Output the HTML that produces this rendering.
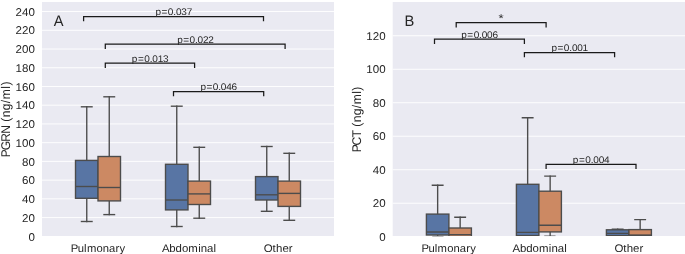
<!DOCTYPE html>
<html><head><meta charset="utf-8"><style>
html,body{margin:0;padding:0;background:#fff;width:685px;height:254px;overflow:hidden}
svg{display:block}
text{font-family:"Liberation Sans",sans-serif;text-rendering:geometricPrecision}
svg{will-change:transform}
</style></head><body>
<svg width="685" height="254" viewBox="0 0 685 254">
<rect width="685" height="254" fill="#fff"/>
<clipPath id="cA"><rect x="42" y="2" width="292.00" height="234"/></clipPath>
<rect x="42" y="2" width="292.00" height="234" fill="#eaeaf2"/>
<text transform="scale(1.0212,1)" x="27.85" y="240.50" font-size="11.32" fill="#262626">0</text>
<line x1="42" x2="334" y1="217.57" y2="217.57" stroke="#fff" stroke-width="0.92"/>
<text transform="scale(1.0212,1)" x="21.56 27.85" y="221.77" font-size="11.32" fill="#262626">20</text>
<line x1="42" x2="334" y1="198.84" y2="198.84" stroke="#fff" stroke-width="0.92"/>
<text transform="scale(1.0212,1)" x="21.56 27.85" y="203.04" font-size="11.32" fill="#262626">40</text>
<line x1="42" x2="334" y1="180.12" y2="180.12" stroke="#fff" stroke-width="0.92"/>
<text transform="scale(1.0212,1)" x="21.56 27.85" y="184.32" font-size="11.32" fill="#262626">60</text>
<line x1="42" x2="334" y1="161.39" y2="161.39" stroke="#fff" stroke-width="0.92"/>
<text transform="scale(1.0212,1)" x="21.56 27.85" y="165.59" font-size="11.32" fill="#262626">80</text>
<line x1="42" x2="334" y1="142.66" y2="142.66" stroke="#fff" stroke-width="0.92"/>
<text transform="scale(1.0212,1)" x="15.26 21.55 27.85" y="146.86" font-size="11.32" fill="#262626">100</text>
<line x1="42" x2="334" y1="123.93" y2="123.93" stroke="#fff" stroke-width="0.92"/>
<text transform="scale(1.0212,1)" x="15.26 21.55 27.85" y="128.13" font-size="11.32" fill="#262626">120</text>
<line x1="42" x2="334" y1="105.20" y2="105.20" stroke="#fff" stroke-width="0.92"/>
<text transform="scale(1.0212,1)" x="15.26 21.55 27.85" y="109.40" font-size="11.32" fill="#262626">140</text>
<line x1="42" x2="334" y1="86.48" y2="86.48" stroke="#fff" stroke-width="0.92"/>
<text transform="scale(1.0212,1)" x="15.26 21.55 27.85" y="90.68" font-size="11.32" fill="#262626">160</text>
<line x1="42" x2="334" y1="67.75" y2="67.75" stroke="#fff" stroke-width="0.92"/>
<text transform="scale(1.0212,1)" x="15.26 21.55 27.85" y="71.95" font-size="11.32" fill="#262626">180</text>
<line x1="42" x2="334" y1="49.02" y2="49.02" stroke="#fff" stroke-width="0.92"/>
<text transform="scale(1.0212,1)" x="15.26 21.55 27.85" y="53.22" font-size="11.32" fill="#262626">200</text>
<line x1="42" x2="334" y1="30.29" y2="30.29" stroke="#fff" stroke-width="0.92"/>
<text transform="scale(1.0212,1)" x="15.26 21.55 27.85" y="34.49" font-size="11.32" fill="#262626">220</text>
<line x1="42" x2="334" y1="11.56" y2="11.56" stroke="#fff" stroke-width="0.92"/>
<text transform="scale(1.0212,1)" x="15.26 21.55 27.85" y="15.76" font-size="11.32" fill="#262626">240</text>
<g clip-path="url(#cA)">
<line x1="86.75" x2="86.75" y1="106.8" y2="160.4" stroke="#4c4c4c" stroke-width="1.375" stroke-linecap="square"/>
<line x1="86.75" x2="86.75" y1="198.3" y2="221.5" stroke="#4c4c4c" stroke-width="1.375" stroke-linecap="square"/>
<line x1="81.47" x2="92.03" y1="221.5" y2="221.5" stroke="#4c4c4c" stroke-width="1.375" stroke-linecap="square"/>
<line x1="81.47" x2="92.03" y1="106.8" y2="106.8" stroke="#4c4c4c" stroke-width="1.375" stroke-linecap="square"/>
<rect x="75.50" y="160.4" width="22.50" height="37.90" fill="#5875a4" stroke="#4c4c4c" stroke-width="1.375" stroke-linecap="square"/>
<line x1="75.50" x2="98.00" y1="186.5" y2="186.5" stroke="#4c4c4c" stroke-width="1.375"/>
<line x1="109.25" x2="109.25" y1="96.8" y2="156.5" stroke="#4c4c4c" stroke-width="1.375" stroke-linecap="square"/>
<line x1="109.25" x2="109.25" y1="200.9" y2="214.6" stroke="#4c4c4c" stroke-width="1.375" stroke-linecap="square"/>
<line x1="103.97" x2="114.53" y1="214.6" y2="214.6" stroke="#4c4c4c" stroke-width="1.375" stroke-linecap="square"/>
<line x1="103.97" x2="114.53" y1="96.8" y2="96.8" stroke="#4c4c4c" stroke-width="1.375" stroke-linecap="square"/>
<rect x="98.00" y="156.5" width="22.50" height="44.40" fill="#cc8963" stroke="#4c4c4c" stroke-width="1.375" stroke-linecap="square"/>
<line x1="98.00" x2="120.50" y1="187.5" y2="187.5" stroke="#4c4c4c" stroke-width="1.375"/>
<line x1="176.75" x2="176.75" y1="106.2" y2="164.3" stroke="#4c4c4c" stroke-width="1.375" stroke-linecap="square"/>
<line x1="176.75" x2="176.75" y1="209.9" y2="226.5" stroke="#4c4c4c" stroke-width="1.375" stroke-linecap="square"/>
<line x1="171.47" x2="182.03" y1="226.5" y2="226.5" stroke="#4c4c4c" stroke-width="1.375" stroke-linecap="square"/>
<line x1="171.47" x2="182.03" y1="106.2" y2="106.2" stroke="#4c4c4c" stroke-width="1.375" stroke-linecap="square"/>
<rect x="165.50" y="164.3" width="22.50" height="45.60" fill="#5875a4" stroke="#4c4c4c" stroke-width="1.375" stroke-linecap="square"/>
<line x1="165.50" x2="188.00" y1="200.0" y2="200.0" stroke="#4c4c4c" stroke-width="1.375"/>
<line x1="199.25" x2="199.25" y1="147.3" y2="181.1" stroke="#4c4c4c" stroke-width="1.375" stroke-linecap="square"/>
<line x1="199.25" x2="199.25" y1="204.5" y2="218.2" stroke="#4c4c4c" stroke-width="1.375" stroke-linecap="square"/>
<line x1="193.97" x2="204.53" y1="218.2" y2="218.2" stroke="#4c4c4c" stroke-width="1.375" stroke-linecap="square"/>
<line x1="193.97" x2="204.53" y1="147.3" y2="147.3" stroke="#4c4c4c" stroke-width="1.375" stroke-linecap="square"/>
<rect x="188.00" y="181.1" width="22.50" height="23.40" fill="#cc8963" stroke="#4c4c4c" stroke-width="1.375" stroke-linecap="square"/>
<line x1="188.00" x2="210.50" y1="193.9" y2="193.9" stroke="#4c4c4c" stroke-width="1.375"/>
<line x1="266.75" x2="266.75" y1="146.5" y2="176.6" stroke="#4c4c4c" stroke-width="1.375" stroke-linecap="square"/>
<line x1="266.75" x2="266.75" y1="200.0" y2="211.3" stroke="#4c4c4c" stroke-width="1.375" stroke-linecap="square"/>
<line x1="261.48" x2="272.02" y1="211.3" y2="211.3" stroke="#4c4c4c" stroke-width="1.375" stroke-linecap="square"/>
<line x1="261.48" x2="272.02" y1="146.5" y2="146.5" stroke="#4c4c4c" stroke-width="1.375" stroke-linecap="square"/>
<rect x="255.50" y="176.6" width="22.50" height="23.40" fill="#5875a4" stroke="#4c4c4c" stroke-width="1.375" stroke-linecap="square"/>
<line x1="255.50" x2="278.00" y1="194.8" y2="194.8" stroke="#4c4c4c" stroke-width="1.375"/>
<line x1="289.25" x2="289.25" y1="153.3" y2="181.1" stroke="#4c4c4c" stroke-width="1.375" stroke-linecap="square"/>
<line x1="289.25" x2="289.25" y1="206.4" y2="220.3" stroke="#4c4c4c" stroke-width="1.375" stroke-linecap="square"/>
<line x1="283.98" x2="294.52" y1="220.3" y2="220.3" stroke="#4c4c4c" stroke-width="1.375" stroke-linecap="square"/>
<line x1="283.98" x2="294.52" y1="153.3" y2="153.3" stroke="#4c4c4c" stroke-width="1.375" stroke-linecap="square"/>
<rect x="278.00" y="181.1" width="22.50" height="25.30" fill="#cc8963" stroke="#4c4c4c" stroke-width="1.375" stroke-linecap="square"/>
<line x1="278.00" x2="300.50" y1="193.4" y2="193.4" stroke="#4c4c4c" stroke-width="1.375"/>
</g>
<polyline points="83.6,21.3 83.6,16.5 263.5,16.5 263.5,21.3" fill="none" stroke="#1a1a1a" stroke-width="1.25"/>
<text transform="scale(1.0412,1)" x="149.30 155.13 161.23 166.43 168.95 174.10 179.25" y="15.10" font-size="9.63" fill="#262626">p=0.037</text>
<polyline points="105.3,49.0 105.3,44.2 285.1,44.2 285.1,49.0" fill="none" stroke="#1a1a1a" stroke-width="1.25"/>
<text transform="scale(1.0412,1)" x="170.15 175.98 182.08 187.28 189.80 194.95 200.10" y="42.80" font-size="9.63" fill="#262626">p=0.022</text>
<polyline points="105.3,68.0 105.3,63.2 194.6,63.2 194.6,68.0" fill="none" stroke="#1a1a1a" stroke-width="1.25"/>
<text transform="scale(1.0412,1)" x="126.61 132.43 138.53 143.74 146.26 151.41 156.56" y="61.80" font-size="9.63" fill="#262626">p=0.013</text>
<polyline points="173.5,96.3 173.5,91.5 263.7,91.5 263.7,96.3" fill="none" stroke="#1a1a1a" stroke-width="1.25"/>
<text transform="scale(1.0412,1)" x="192.48 198.30 204.40 209.60 212.13 217.28 222.43" y="90.10" font-size="9.63" fill="#262626">p=0.046</text>
<text transform="scale(0.9647,1)" x="55.72" y="25.90" font-size="15.20" fill="#262626">A</text>
<text transform="translate(10.00,0) rotate(-90) scale(0.9512,1)" x="-165.39 -158.05 -149.12 -140.70 -131.68 -127.90 -123.33 -115.93 -108.51 -104.35 -93.20 -90.00" y="0" font-size="12.60" fill="#262626">PGRN (ng/ml)</text>
<clipPath id="cB"><rect x="392.7" y="2" width="292.30" height="234"/></clipPath>
<rect x="392.7" y="2" width="292.30" height="234" fill="#eaeaf2"/>
<text transform="scale(1.0212,1)" x="371.29" y="240.60" font-size="11.32" fill="#262626">0</text>
<line x1="392.7" x2="685" y1="203.21" y2="203.21" stroke="#fff" stroke-width="0.92"/>
<text transform="scale(1.0212,1)" x="364.99 371.28" y="207.11" font-size="11.32" fill="#262626">20</text>
<line x1="392.7" x2="685" y1="169.72" y2="169.72" stroke="#fff" stroke-width="0.92"/>
<text transform="scale(1.0212,1)" x="364.99 371.28" y="173.62" font-size="11.32" fill="#262626">40</text>
<line x1="392.7" x2="685" y1="136.23" y2="136.23" stroke="#fff" stroke-width="0.92"/>
<text transform="scale(1.0212,1)" x="364.99 371.28" y="140.13" font-size="11.32" fill="#262626">60</text>
<line x1="392.7" x2="685" y1="102.74" y2="102.74" stroke="#fff" stroke-width="0.92"/>
<text transform="scale(1.0212,1)" x="364.99 371.28" y="106.64" font-size="11.32" fill="#262626">80</text>
<line x1="392.7" x2="685" y1="69.25" y2="69.25" stroke="#fff" stroke-width="0.92"/>
<text transform="scale(1.0212,1)" x="358.69 364.99 371.28" y="73.15" font-size="11.32" fill="#262626">100</text>
<line x1="392.7" x2="685" y1="35.76" y2="35.76" stroke="#fff" stroke-width="0.92"/>
<text transform="scale(1.0212,1)" x="358.69 364.99 371.28" y="39.66" font-size="11.32" fill="#262626">120</text>
<g clip-path="url(#cB)">
<line x1="437.65" x2="437.65" y1="185.3" y2="214.1" stroke="#4c4c4c" stroke-width="1.375" stroke-linecap="square"/>
<line x1="437.65" x2="437.65" y1="235.0" y2="237" stroke="#4c4c4c" stroke-width="1.375" stroke-linecap="square"/>
<line x1="432.38" x2="442.92" y1="185.3" y2="185.3" stroke="#4c4c4c" stroke-width="1.375" stroke-linecap="square"/>
<rect x="426.40" y="214.1" width="22.50" height="20.90" fill="#5875a4" stroke="#4c4c4c" stroke-width="1.375" stroke-linecap="square"/>
<line x1="426.40" x2="448.90" y1="232.0" y2="232.0" stroke="#4c4c4c" stroke-width="1.375"/>
<line x1="460.15" x2="460.15" y1="217.2" y2="228.0" stroke="#4c4c4c" stroke-width="1.375" stroke-linecap="square"/>
<line x1="460.15" x2="460.15" y1="236.4" y2="237" stroke="#4c4c4c" stroke-width="1.375" stroke-linecap="square"/>
<line x1="454.88" x2="465.42" y1="217.2" y2="217.2" stroke="#4c4c4c" stroke-width="1.375" stroke-linecap="square"/>
<rect x="448.90" y="228.0" width="22.50" height="8.40" fill="#cc8963" stroke="#4c4c4c" stroke-width="1.375" stroke-linecap="square"/>
<line x1="448.90" x2="471.40" y1="234.6" y2="234.6" stroke="#4c4c4c" stroke-width="1.375"/>
<line x1="527.65" x2="527.65" y1="117.7" y2="184.3" stroke="#4c4c4c" stroke-width="1.375" stroke-linecap="square"/>
<line x1="527.65" x2="527.65" y1="235.6" y2="237" stroke="#4c4c4c" stroke-width="1.375" stroke-linecap="square"/>
<line x1="522.38" x2="532.92" y1="117.7" y2="117.7" stroke="#4c4c4c" stroke-width="1.375" stroke-linecap="square"/>
<rect x="516.40" y="184.3" width="22.50" height="51.30" fill="#5875a4" stroke="#4c4c4c" stroke-width="1.375" stroke-linecap="square"/>
<line x1="516.40" x2="538.90" y1="232.4" y2="232.4" stroke="#4c4c4c" stroke-width="1.375"/>
<line x1="550.15" x2="550.15" y1="176.1" y2="191.2" stroke="#4c4c4c" stroke-width="1.375" stroke-linecap="square"/>
<line x1="550.15" x2="550.15" y1="231.9" y2="237" stroke="#4c4c4c" stroke-width="1.375" stroke-linecap="square"/>
<line x1="544.88" x2="555.42" y1="176.1" y2="176.1" stroke="#4c4c4c" stroke-width="1.375" stroke-linecap="square"/>
<rect x="538.90" y="191.2" width="22.50" height="40.70" fill="#cc8963" stroke="#4c4c4c" stroke-width="1.375" stroke-linecap="square"/>
<line x1="538.90" x2="561.40" y1="225.3" y2="225.3" stroke="#4c4c4c" stroke-width="1.375"/>
<line x1="617.65" x2="617.65" y1="229.3" y2="229.8" stroke="#4c4c4c" stroke-width="1.375" stroke-linecap="square"/>
<line x1="617.65" x2="617.65" y1="235.6" y2="237" stroke="#4c4c4c" stroke-width="1.375" stroke-linecap="square"/>
<line x1="612.38" x2="622.92" y1="229.3" y2="229.3" stroke="#4c4c4c" stroke-width="1.375" stroke-linecap="square"/>
<rect x="606.40" y="229.8" width="22.50" height="5.80" fill="#5875a4" stroke="#4c4c4c" stroke-width="1.375" stroke-linecap="square"/>
<line x1="606.40" x2="628.90" y1="233.4" y2="233.4" stroke="#4c4c4c" stroke-width="1.375"/>
<line x1="640.15" x2="640.15" y1="219.6" y2="229.6" stroke="#4c4c4c" stroke-width="1.375" stroke-linecap="square"/>
<line x1="640.15" x2="640.15" y1="235.4" y2="237" stroke="#4c4c4c" stroke-width="1.375" stroke-linecap="square"/>
<line x1="634.88" x2="645.42" y1="219.6" y2="219.6" stroke="#4c4c4c" stroke-width="1.375" stroke-linecap="square"/>
<rect x="628.90" y="229.6" width="22.50" height="5.80" fill="#cc8963" stroke="#4c4c4c" stroke-width="1.375" stroke-linecap="square"/>
<line x1="628.90" x2="651.40" y1="235.3" y2="235.3" stroke="#4c4c4c" stroke-width="1.375"/>
</g>
<line x1="432.25" x2="443.5" y1="236.3" y2="236.3" stroke="#4c4c4c" stroke-width="1" stroke-opacity="0.45"/>
<line x1="544.25" x2="555.5" y1="235.6" y2="235.6" stroke="#4c4c4c" stroke-width="1" stroke-opacity="0.5"/>
<polyline points="456.2,27.400000000000002 456.2,22.6 546.1,22.6 546.1,27.400000000000002" fill="none" stroke="#1a1a1a" stroke-width="1.25"/>
<text transform="scale(1.1869,1)" x="420.08" y="22.00" font-size="11.17" fill="#262626">*</text>
<polyline points="434.5,43.9 434.5,39.1 524.4,39.1 524.4,43.9" fill="none" stroke="#1a1a1a" stroke-width="1.25"/>
<text transform="scale(1.0412,1)" x="443.01 448.84 454.94 460.14 462.66 467.81 472.96" y="37.70" font-size="9.63" fill="#262626">p=0.006</text>
<polyline points="524.4,57.3 524.4,52.5 614.6,52.5 614.6,57.3" fill="none" stroke="#1a1a1a" stroke-width="1.25"/>
<text transform="scale(1.0412,1)" x="529.62 535.45 541.55 546.75 549.27 554.42 559.57" y="51.10" font-size="9.63" fill="#262626">p=0.001</text>
<polyline points="546.1,169.10000000000002 546.1,164.3 636.0,164.3 636.0,169.10000000000002" fill="none" stroke="#1a1a1a" stroke-width="1.25"/>
<text transform="scale(1.0412,1)" x="550.17 556.00 562.10 567.30 569.82 574.97 580.12" y="162.90" font-size="9.63" fill="#262626">p=0.004</text>
<text transform="scale(0.9675,1)" x="417.99" y="25.90" font-size="15.20" fill="#262626">B</text>
<text transform="translate(360.70,0) rotate(-90) scale(0.9627,1)" x="-158.21 -151.05 -142.81 -135.36 -131.62 -127.12 -119.81 -112.46 -108.39 -97.33 -94.18" y="0" font-size="12.60" fill="#262626">PCT (ng/ml)</text>
<text transform="scale(1.0206,1)" x="69.41 76.14 82.32 85.14 94.52 100.68 106.85 113.14 117.18" y="251.70" font-size="11.04" fill="#262626">Pulmonary</text>
<text transform="scale(1.0342,1)" x="156.55 163.60 169.80 175.89 182.10 191.59 194.19 200.28 206.47" y="251.70" font-size="11.04" fill="#262626">Abdominal</text>
<text transform="scale(1.0386,1)" x="253.90 262.40 265.85 271.92 278.14" y="251.70" font-size="11.04" fill="#262626">Other</text>
<text transform="scale(1.0206,1)" x="413.03 419.76 425.94 428.77 438.14 444.30 450.47 456.77 460.81" y="251.70" font-size="11.04" fill="#262626">Pulmonary</text>
<text transform="scale(1.0342,1)" x="495.66 502.71 508.91 514.99 521.21 530.69 533.30 539.38 545.58" y="251.70" font-size="11.04" fill="#262626">Abdominal</text>
<text transform="scale(1.0386,1)" x="591.57 600.06 603.51 609.58 615.81" y="251.70" font-size="11.04" fill="#262626">Other</text>
</svg>
</body></html>
